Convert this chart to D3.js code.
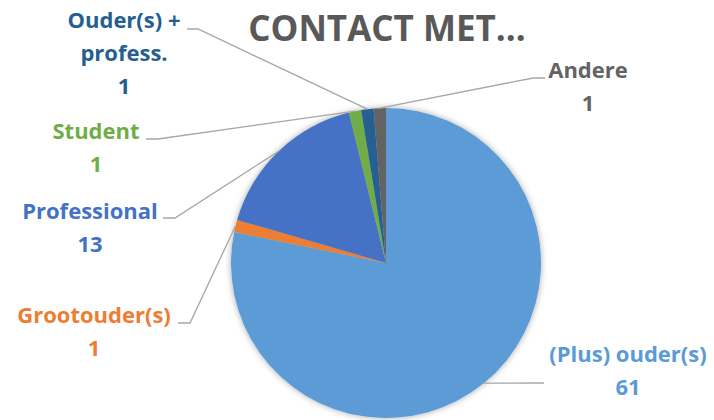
<!DOCTYPE html>
<html>
<head>
<meta charset="utf-8">
<script src="https://cdn.jsdelivr.net/npm/d3@7"></script>
<style>
  body { margin: 0; background: #fff; }
  svg { display: block; }
</style>
</head>
<body>
<div id="chart"></div>
<script>
// data
const categories = ["(Plus) ouder(s)", "Grootouder(s)", "Professional", "Student", "Ouder(s) + profess.", "Andere"];
const values = [61, 1, 13, 1, 1, 1];
const labelLines = [["(Plus) ouder(s)"], ["Grootouder(s)"], ["Professional"], ["Student"], ["Ouder(s) +", "profess."], ["Andere"]];
const colors = ["#5B9BD5", "#ED7D31", "#4472C4", "#70AD47", "#255E91", "#636363"];

const width = 714, height = 420;
const cx = 386, cy = 263, radius = 155;

// where Excel put the labels (text centre x, first baseline y) and the elbow of the leader
const labelPos = [
  { x: 628, y: 362, elbow: [544, 383], end: [544, 383] },
  { x: 94,  y: 323, elbow: [190, 323], end: [178, 323] },
  { x: 90,  y: 219, elbow: [175, 218], end: [163, 218] },
  { x: 96,  y: 139, elbow: [158, 139], end: [146, 139] },
  { x: 124, y: 28,  elbow: [198, 29],  end: [187, 29] },
  { x: 588, y: 78,  elbow: [533, 78],  end: [545, 78] }
];

const svg = d3.select("#chart").append("svg")
  .attr("width", width)
  .attr("height", height);

const defs = svg.append("defs");
const filt = defs.append("filter").attr("id", "shadow")
  .attr("x", "-10%").attr("y", "-10%").attr("width", "120%").attr("height", "120%");
filt.append("feDropShadow")
  .attr("dx", 0).attr("dy", 0)
  .attr("stdDeviation", 3)
  .attr("flood-color", "#000")
  .attr("flood-opacity", 0.35);

// title
svg.append("text")
  .attr("x", 387)
  .attr("y", 41)
  .attr("text-anchor", "middle")
  .attr("font-family", "'Open Sans', sans-serif")
  .attr("font-weight", "bold")
  .attr("font-size", 35)
  .attr("fill", "#595959")
  .text("CONTACT MET\u2026");

const pie = d3.pie().sort(null).value(d => d)(values);
const arc = d3.arc().innerRadius(0).outerRadius(radius);
const edge = d3.arc().innerRadius(radius).outerRadius(radius);

const g = svg.append("g").attr("transform", `translate(${cx},${cy})`);

// leader lines (under the pie)
const leaders = svg.append("g");
pie.forEach((p, i) => {
  const c = edge.centroid(p);
  const lp = labelPos[i];
  leaders.append("polyline")
    .attr("points", [[cx + c[0], cy + c[1]], lp.elbow, lp.end].map(q => q.join(",")).join(" "))
    .attr("fill", "none")
    .attr("stroke", "#A6A6A6")
    .attr("stroke-width", 1.3);
});

g.append("g")
  .attr("filter", "url(#shadow)")
  .selectAll("path")
  .data(pie)
  .join("path")
    .attr("d", arc)
    .attr("fill", (d, i) => colors[i]);

// labels
pie.forEach((p, i) => {
  const lp = labelPos[i];
  const t = svg.append("text")
    .attr("text-anchor", "middle")
    .attr("font-family", "'Open Sans', sans-serif")
    .attr("font-weight", "bold")
    .attr("font-size", 22)
    .attr("fill", colors[i]);
  const lines = labelLines[i].concat([String(values[i])]);
  lines.forEach((s, k) => {
    t.append("tspan")
      .attr("x", lp.x)
      .attr("y", lp.y + k * 33)
      .text(s);
  });
});
</script>
</body>
</html>
